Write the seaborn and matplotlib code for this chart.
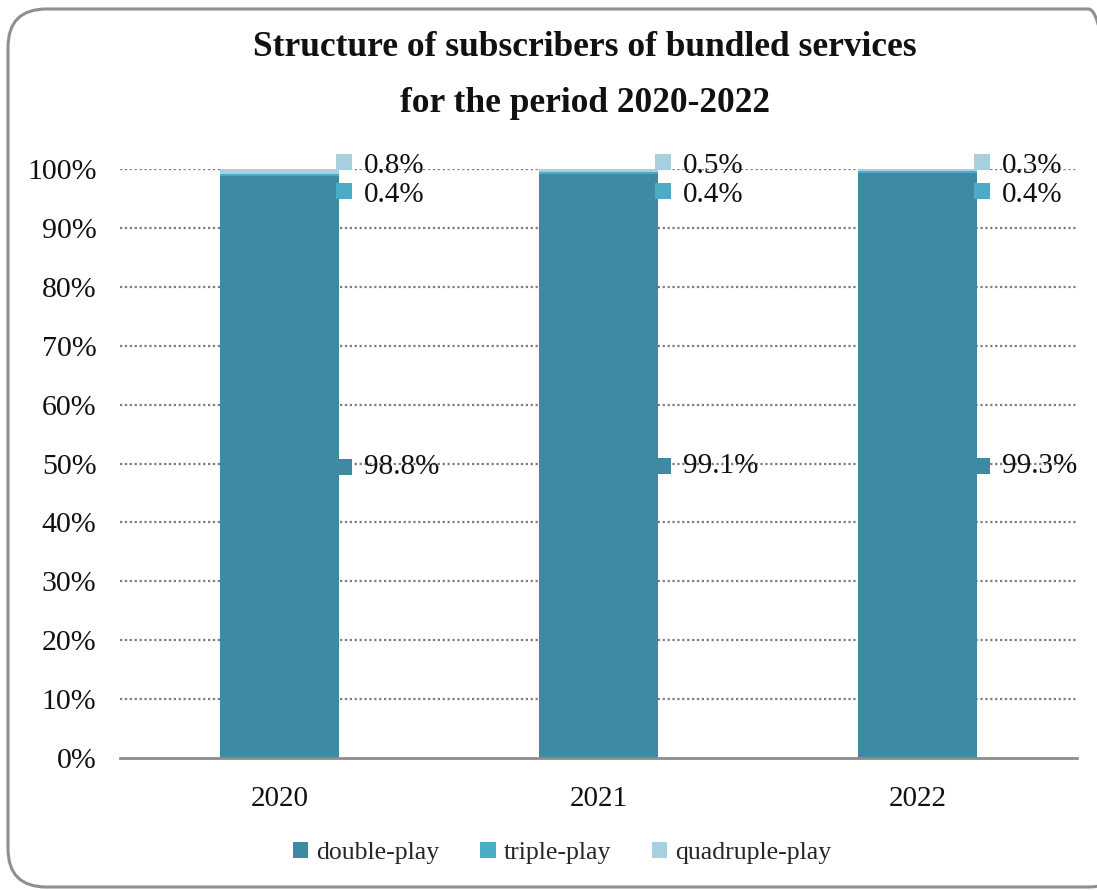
import matplotlib
matplotlib.use("Agg")
import matplotlib.pyplot as plt
import matplotlib.transforms as mtransforms
from matplotlib.patches import FancyBboxPatch, Patch
import seaborn as sns
import pandas as pd

# Subscriber shares by package type, percent
years = ["2020", "2021", "2022"]
double_play = [98.8, 99.1, 99.3]
triple_play = [0.4, 0.4, 0.4]
quadruple_play = [0.8, 0.5, 0.3]
series_names = ["double-play", "triple-play", "quadruple-play"]
y_ticks = [0, 10, 20, 30, 40, 50, 60, 70, 80, 90, 100]

colors = {"double-play": "#3E8AA2", "triple-play": "#4BACC6", "quadruple-play": "#A8CFDD"}

sns.set_theme(style="white")
plt.rcParams["font.family"] = ["Liberation Serif", "DejaVu Serif"]

df = pd.DataFrame({
    "year": years,
    "double": [d / 100 for d in double_play],
    "triple": [t / 100 for t in triple_play],
    "quad": [q / 100 for q in quadruple_play],
})
df["level2"] = df["double"] + df["triple"]
df["level3"] = df["level2"] + df["quad"]

fig = plt.figure(figsize=(10.97, 8.90), dpi=100)
ax = fig.add_axes([0.1094, 0.1483, 0.8724, 0.6618])

bar_w = 0.375
# stacked bars drawn back to front from cumulative totals
sns.barplot(data=df, x="year", y="level3", color=colors["quadruple-play"],
            saturation=1, width=bar_w, ax=ax, zorder=3)
sns.barplot(data=df, x="year", y="level2", color=colors["triple-play"],
            saturation=1, width=bar_w, ax=ax, zorder=3)
sns.barplot(data=df, x="year", y="double", color=colors["double-play"],
            saturation=1, width=bar_w, ax=ax, zorder=3)
for p in ax.patches:
    p.set_linewidth(0)

ax.set_xlim(-0.5, 2.5)
ax.set_ylim(0, 1.0)
ax.set_yticks([t / 100 for t in y_ticks])
ax.set_yticklabels([f"{t}%" for t in y_ticks])
ax.set_xlabel("")
ax.set_ylabel("")
ax.tick_params(axis="y", labelsize=21.5, pad=17, length=0, colors="#111111")
ax.tick_params(axis="x", labelsize=21, pad=20, length=0, colors="#111111")

for t in y_ticks[1:]:
    ax.axhline(t / 100, color="#7d7d7d", linewidth=1.6,
               linestyle=(0, (1, 1.2)), zorder=1)
for side in ["top", "right", "left"]:
    ax.spines[side].set_visible(False)
ax.spines["bottom"].set_color("#8c8c8c")
ax.spines["bottom"].set_linewidth(2)
ax.spines["bottom"].set_zorder(4)

# data labels with legend keys to the right of each bar
marker_tr = mtransforms.offset_copy(ax.transData, fig=fig, x=5, y=0, units="dots")
label_rows = [
    ("double-play", double_play, [d / 200 for d in df["double"] * 100], 0),
    ("triple-play", triple_play, [0.963] * 3, -3),
    ("quadruple-play", quadruple_play, [1.012] * 3, -3),
]
for name, vals, ys, dy in label_rows:
    for i, (v, yy) in enumerate(zip(vals, ys)):
        xr = i + bar_w / 2
        ax.plot([xr], [yy], marker="s", markersize=11.5, color=colors[name],
                markeredgewidth=0, transform=marker_tr, clip_on=False, zorder=5)
        ax.annotate(f"{v:.1f}%", xy=(xr, yy), xytext=(18, dy),
                    textcoords="offset points", va="center", ha="left",
                    fontsize=21, color="#111111", annotation_clip=False, zorder=6)

fig.text(585 / 1097, 1 - 47 / 890, "Structure of subscribers of bundled services",
         ha="center", va="center", fontsize=25.5, fontweight="bold", color="#111111")
fig.text(585 / 1097, 1 - 103 / 890, "for the period 2020-2022",
         ha="center", va="center", fontsize=25.5, fontweight="bold", color="#111111")

handles = [Patch(facecolor=colors[n], edgecolor="none", label=n) for n in series_names]
fig.legend(handles=handles, loc="center", bbox_to_anchor=(562 / 1097, 1 - 853 / 890),
           ncol=3, frameon=False, fontsize=18.5, handlelength=0.6, handleheight=0.6,
           handletextpad=0.3, columnspacing=1.6)

# rounded chart-area border
border = FancyBboxPatch((8 / 1097, 3 / 890), 1.02, 878 / 890,
                        boxstyle="round,pad=0,rounding_size=0.035",
                        transform=fig.transFigure, facecolor="none",
                        edgecolor="#8f8f8f", linewidth=2.2, clip_on=False,
                        mutation_aspect=1097 / 890)
fig.patches.append(border)

fig.savefig("out.png", dpi=100, facecolor="white")
